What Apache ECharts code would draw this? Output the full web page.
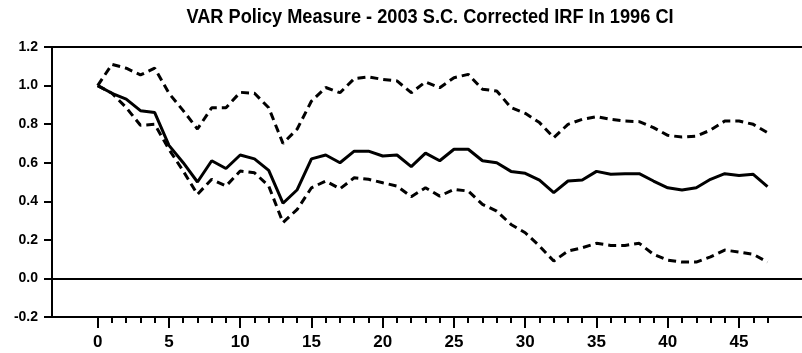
<!DOCTYPE html>
<html>
<head>
<meta charset="utf-8">
<script src="https://cdn.jsdelivr.net/npm/echarts@6/dist/echarts.min.js"></script>
<style>
  html, body { margin: 0; padding: 0; background: #fff; }
  #chart { width: 802px; height: 353px; }
</style>
</head>
<body>
<div id="chart"></div>
<script>
// Horizon (periods after the shock)
const horizons = [];
for (let h = 0; h <= 47; h++) horizons.push(h);

// Impulse response point estimate
const irf = [
  1.00, 0.96, 0.93, 0.87, 0.86, 0.69, 0.60, 0.50, 0.61, 0.57,
  0.64, 0.62, 0.56, 0.39, 0.46, 0.62, 0.64, 0.60, 0.66, 0.66,
  0.635, 0.64, 0.58, 0.65, 0.61, 0.67, 0.67, 0.61, 0.60, 0.555,
  0.545, 0.51, 0.445, 0.505, 0.51, 0.555, 0.54, 0.543, 0.543, 0.505,
  0.47, 0.458, 0.47, 0.514, 0.543, 0.534, 0.54, 0.476
];

// Upper confidence band
const upper = [
  1.00, 1.11, 1.09, 1.055, 1.09, 0.96, 0.87, 0.775, 0.885, 0.885,
  0.965, 0.96, 0.885, 0.70, 0.775, 0.92, 0.99, 0.963, 1.036, 1.045,
  1.032, 1.024, 0.963, 1.019, 0.989, 1.041, 1.058, 0.981, 0.972, 0.886,
  0.856, 0.808, 0.73, 0.799, 0.825, 0.839, 0.825, 0.816, 0.813, 0.782,
  0.742, 0.733, 0.738, 0.769, 0.816, 0.816, 0.799, 0.756
];

// Lower confidence band
const lower = [
  1.00, 0.96, 0.886, 0.794, 0.799, 0.669, 0.557, 0.436, 0.514, 0.479,
  0.557, 0.548, 0.479, 0.29, 0.358, 0.47, 0.505, 0.465, 0.522, 0.514,
  0.496, 0.479, 0.424, 0.47, 0.427, 0.462, 0.453, 0.384, 0.349, 0.28,
  0.237, 0.168, 0.09, 0.142, 0.159, 0.182, 0.171, 0.171, 0.182, 0.125,
  0.095, 0.085, 0.085, 0.112, 0.147, 0.137, 0.125, 0.085
];

const majorTicks = [0, 5, 10, 15, 20, 25, 30, 35, 40, 45];

const titleText = 'VAR Policy Measure - 2003 S.C. Corrected IRF In 1996 CI';

const FONT = '"Liberation Sans", Arial, sans-serif';
const X_MIN = -3.207, X_MAX = 49.42;

const pairs = arr => horizons.map((h, i) => [h, arr[i]]);

const chart = echarts.init(document.getElementById('chart'), null, { renderer: 'canvas' });

const baseX = {
  type: 'value', min: X_MIN, max: X_MAX,
  splitLine: { show: false }
};

chart.setOption({
  animation: false,
  backgroundColor: '#fff',
  // Title drawn as a slightly condensed text element
  graphic: [{
    type: 'text',
    x: 430, y: 7,
    scaleX: 0.91,
    style: {
      text: titleText,
      fontFamily: FONT, fontWeight: 'bold', fontSize: 20,
      fill: '#000', align: 'center', verticalAlign: 'top'
    },
    silent: true
  }],
  grid: { left: 52, right: 0, top: 47, bottom: 36, containLabel: false },
  xAxis: [
    Object.assign({}, baseX, {
      position: 'bottom',
      axisLine: { show: true, onZero: false, lineStyle: { color: '#000', width: 2 } },
      axisTick: { show: true, inside: false, length: 6, customValues: horizons,
                  lineStyle: { color: '#000', width: 2 } },
      axisLabel: { show: false }
    }),
    Object.assign({}, baseX, {
      position: 'bottom',
      axisLine: { show: false, onZero: false },
      axisTick: { show: true, inside: false, length: 11, customValues: majorTicks,
                  lineStyle: { color: '#000', width: 2 } },
      axisLabel: { show: true, customValues: majorTicks, margin: 17,
                   fontFamily: FONT, fontWeight: 'bold', fontSize: 17, color: '#000' }
    }),
    Object.assign({}, baseX, {
      position: 'top',
      axisLine: { show: true, onZero: false, lineStyle: { color: '#000', width: 2 } },
      axisTick: { show: false },
      axisLabel: { show: false }
    })
  ],
  yAxis: {
    type: 'value', min: -0.2, max: 1.2, interval: 0.2,
    axisLine: { show: true, onZero: false, lineStyle: { color: '#000', width: 2 } },
    axisTick: { show: true, inside: false, length: 8, lineStyle: { color: '#000', width: 2 } },
    axisLabel: {
      margin: 14, fontFamily: FONT, fontWeight: 'bold', fontSize: 14, color: '#000',
      formatter: v => (Math.abs(v) < 1e-9 ? 0 : v).toFixed(1)
    },
    splitLine: { show: false }
  },
  series: [
    {
      type: 'line', name: 'IRF', xAxisIndex: 0, data: pairs(irf),
      showSymbol: false, lineStyle: { color: '#000', width: 3 },
      markLine: {
        silent: true, symbol: ['none', 'none'], label: { show: false },
        lineStyle: { color: '#000', width: 2, type: 'solid' },
        data: [{ yAxis: 0 }]
      }
    },
    {
      type: 'line', name: 'Upper', xAxisIndex: 0, data: pairs(upper),
      showSymbol: false, lineStyle: { color: '#000', width: 3, type: [8, 5] }
    },
    {
      type: 'line', name: 'Lower', xAxisIndex: 0, data: pairs(lower),
      showSymbol: false, lineStyle: { color: '#000', width: 3, type: [8, 5] }
    }
  ]
});
</script>
</body>
</html>
